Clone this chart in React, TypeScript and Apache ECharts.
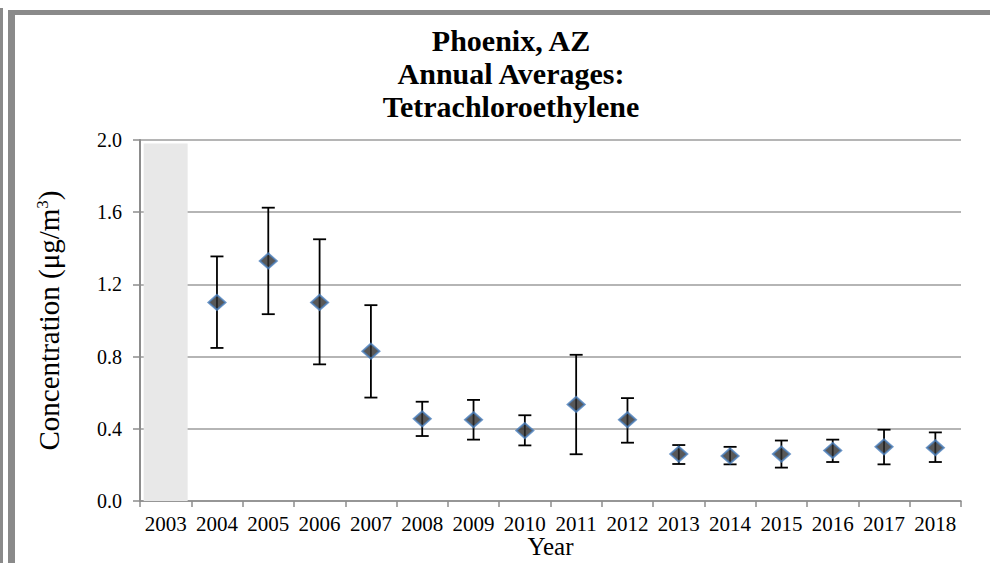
import React, { useEffect, useRef } from "react";
import * as echarts from "echarts";

const years = ["2003", "2004", "2005", "2006", "2007", "2008", "2009", "2010", "2011", "2012", "2013", "2014", "2015", "2016", "2017", "2018"];
const means: (number | null)[] = [null, 1.10, 1.33, 1.10, 0.83, 0.455, 0.45, 0.39, 0.535, 0.45, 0.26, 0.25, 0.26, 0.28, 0.30, 0.295];
const upper: (number | null)[] = [null, 1.355, 1.625, 1.45, 1.085, 0.55, 0.56, 0.475, 0.81, 0.57, 0.31, 0.30, 0.335, 0.34, 0.395, 0.38];
const lower: (number | null)[] = [null, 0.848, 1.035, 0.757, 0.573, 0.36, 0.34, 0.308, 0.259, 0.323, 0.205, 0.203, 0.185, 0.216, 0.203, 0.216];
const noDataBand: (number | null)[] = [1.98, null, null, null, null, null, null, null, null, null, null, null, null, null, null, null];
const yTicks = { min: 0, max: 2.0, interval: 0.4 };

const FONT = "'Liberation Serif', 'Times New Roman', serif";

export default function App() {
  const ref = useRef<HTMLDivElement>(null);
  useEffect(() => {
    if (!ref.current) return;
    const chart = echarts.init(ref.current, null, { renderer: "svg" });
    const errData = years
      .map((_, i) => (lower[i] == null ? null : [i, lower[i], upper[i]]))
      .filter((d) => d != null);
    chart.setOption({
      animation: false,
      backgroundColor: "#fff",
      textStyle: { fontFamily: FONT },
      title: {
        text: "Phoenix, AZ\nAnnual Averages:\nTetrachloroethylene",
        left: 506,
        top: 19,
        textAlign: "center",
        textStyle: { fontFamily: FONT, fontSize: 30, fontWeight: "bold", color: "#000", lineHeight: 33 },
      },
      grid: { left: 140, right: 29, top: 140, bottom: 62, outerBoundsMode: "none", containLabel: false },
      xAxis: {
        type: "category",
        data: years,
        boundaryGap: true,
        name: "Year",
        nameLocation: "middle",
        nameGap: 33,
        nameMoveOverlap: false,
        nameTextStyle: { fontFamily: FONT, fontSize: 25, lineHeight: 25, color: "#000" },
        axisLine: { lineStyle: { color: "#8c8c8c", width: 1.5 } },
        axisTick: { show: true, length: 6, lineStyle: { color: "#8c8c8c", width: 1.5 } },
        axisLabel: { fontFamily: FONT, fontSize: 21, lineHeight: 20, color: "#000", margin: 13, interval: 0 },
        splitLine: { show: false },
      },
      yAxis: {
        type: "value",
        min: yTicks.min,
        max: yTicks.max,
        interval: yTicks.interval,
        name: "Concentration (μg/m{sup|3})",
        nameLocation: "middle",
        nameGap: 76,
        nameRotate: 90,
        nameTextStyle: {
          fontFamily: FONT,
          fontSize: 29,
          color: "#000",
          rich: { sup: { fontFamily: FONT, fontSize: 17, color: "#000", verticalAlign: "top", padding: [0, 0, 13, 0] } },
        },
        axisLine: { show: true, lineStyle: { color: "#8c8c8c", width: 2 } },
        axisTick: { show: true, length: 7, lineStyle: { color: "#8c8c8c", width: 1.5 } },
        axisLabel: {
          fontFamily: FONT,
          fontSize: 20,
          color: "#000",
          margin: 18,
          formatter: (v: number) => v.toFixed(1),
        },
        splitLine: { show: true, lineStyle: { color: "#9c9c9c", width: 1.5 } },
      },
      graphic: [
        { type: "rect", shape: { x: 0, y: 8, width: 3, height: 555 }, style: { fill: "#8a8a8a" }, z: 100 },
        { type: "rect", shape: { x: 8, y: 10, width: 7, height: 553 }, style: { fill: "#8a8a8a" }, z: 100 },
        { type: "rect", shape: { x: 8, y: 10, width: 982, height: 5 }, style: { fill: "#8a8a8a" }, z: 100 },
      ],
      series: [
        {
          type: "bar",
          data: noDataBand,
          barWidth: 44,
          itemStyle: { color: "#e8e8e8" },
          z: 1,
          silent: true,
        },
        {
          type: "custom",
          data: errData,
          z: 3,
          renderItem: (params: any, api: any) => {
            const x = api.value(0);
            const lo = api.coord([x, api.value(1)]);
            const hi = api.coord([x, api.value(2)]);
            const half = 6.5;
            const style = { stroke: "#000", lineWidth: 1.8 };
            return {
              type: "group",
              children: [
                { type: "line", shape: { x1: lo[0], y1: lo[1], x2: hi[0], y2: hi[1] }, style },
                { type: "line", shape: { x1: hi[0] - half, y1: hi[1], x2: hi[0] + half, y2: hi[1] }, style },
                { type: "line", shape: { x1: lo[0] - half, y1: lo[1], x2: lo[0] + half, y2: lo[1] }, style },
              ],
            };
          },
        },
        {
          type: "scatter",
          data: means,
          symbol: "diamond",
          symbolSize: [17, 15],
          itemStyle: { color: "#2e2e2e", borderColor: "#4a7ebb", borderWidth: 2 },
          z: 5,
        },
      ],
    });
    return () => chart.dispose();
  }, []);
  return <div ref={ref} style={{ position: "fixed", left: 0, top: 0, width: 990, height: 563 }} />;
}
